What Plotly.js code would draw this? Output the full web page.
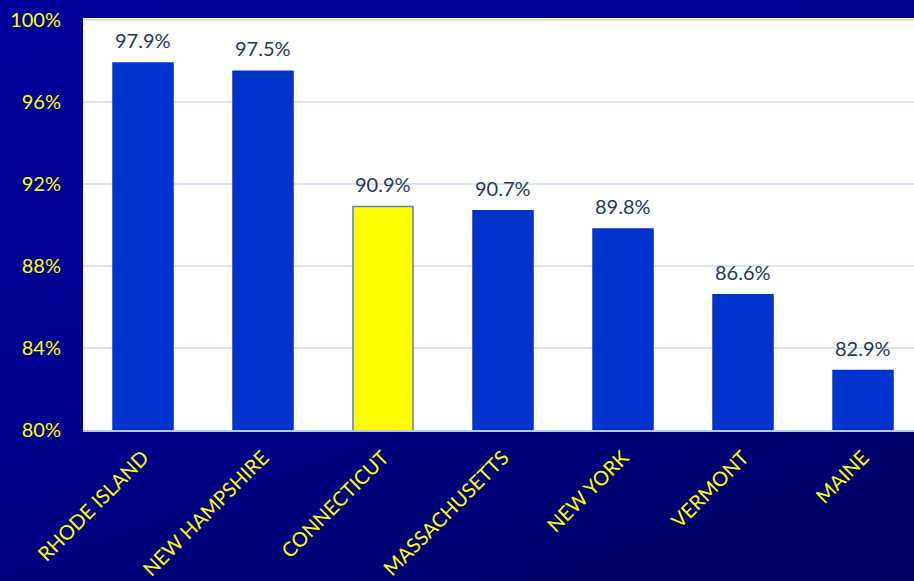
<!DOCTYPE html>
<html>
<head>
<meta charset="utf-8">
<script src="https://cdn.plot.ly/plotly-3.0.1.min.js"></script>
<style>
html,body{margin:0;padding:0;width:914px;height:581px;overflow:hidden;}
body{background:linear-gradient(160deg,#000099 0%,#00008f 45%,#000060 100%);}
#chart{width:914px;height:581px;}
</style>
</head>
<body>
<div id="chart"></div>
<script>
const states = ["RHODE ISLAND","NEW HAMPSHIRE","CONNECTICUT","MASSACHUSETTS","NEW YORK","VERMONT","MAINE"];
const rates = [97.9, 97.5, 90.9, 90.7, 89.8, 86.6, 82.9];
const barColors = ["#0033CC","#0033CC","#FFFF00","#0033CC","#0033CC","#0033CC","#0033CC"];
const lineColors = ["#0033CC","#0033CC","#5B7FBF","#0033CC","#0033CC","#0033CC","#0033CC"];
const yTicks = [80, 84, 88, 92, 96, 100];

const FONT = "Lato, 'Open Sans', sans-serif";

const trace = {
  type: "bar",
  x: states,
  y: rates,
  marker: {color: barColors, line: {color: lineColors, width: 1.5}},
  hoverinfo: "none"
};

const annotations = states.map((s, i) => ({
  x: s, y: rates[i], xref: "x", yref: "y",
  text: rates[i].toFixed(1) + "%",
  showarrow: false, yanchor: "bottom", yshift: 9,
  font: {family: FONT, size: 20, color: "#203864"}
}));

const layout = {
  width: 914, height: 581,
  margin: {l: 83, r: 0, t: 18, b: 151},
  paper_bgcolor: "rgba(0,0,0,0)",
  plot_bgcolor: "#FFFFFF",
  bargap: 0.5,
  showlegend: false,
  xaxis: {
    range: [-0.5, 6.425],
    tickangle: -45,
    tickfont: {family: FONT, size: 20, color: "#FFFF00"},
    showgrid: false,
    showline: true, linecolor: "#B4C7E7", linewidth: 2,
    ticks: "", ticklabelstandoff: 6
  },
  yaxis: {
    range: [80, 100.1],
    tickvals: yTicks,
    ticktext: yTicks.map(v => v + "%"),
    tickfont: {family: FONT, size: 20, color: "#FFFF00"},
    showgrid: true, gridcolor: "#DAE3F3", gridwidth: 1.5,
    zeroline: false, showline: false, ticks: "",
    ticklabelstandoff: 21
  },
  annotations: annotations
};

Plotly.newPlot("chart", [trace], layout, {displayModeBar: false, staticPlot: true});
</script>
</body>
</html>
